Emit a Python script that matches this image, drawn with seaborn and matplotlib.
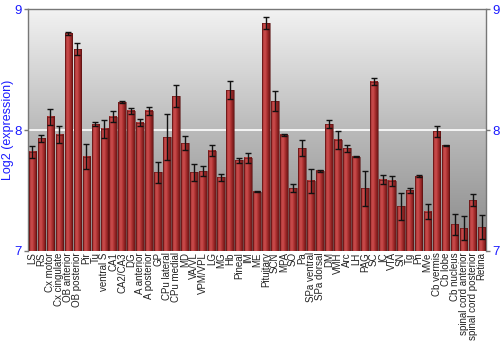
import numpy as np
import pandas as pd
import matplotlib
matplotlib.use("Agg")
import matplotlib.pyplot as plt
import seaborn as sns
from matplotlib.colors import LinearSegmentedColormap

regions = ["LS", "RS", "Cx motor", "Cx cingulate", "OB anterior", "OB posterior", "Pir", "Tu",
           "ventral S", "CA1", "CA2/CA3", "DG", "A anterior", "A posterior", "GP", "CPu lateral",
           "CPu medial", "MD", "VA/VL", "VPM/VPL", "LG", "MG", "Hb", "Pineal", "IM", "ME",
           "Pituitary", "SCN", "MPA", "SO", "Pa", "SPa ventral", "SPa dorsal", "DM", "VMH", "Arc",
           "LH", "PAG", "SC", "IC", "VTA", "SN", "Tg", "Pn", "MVe", "Cb vermis", "Cb lobe",
           "Cb nucleus", "spinal cord anterior", "spinal cord posterior", "Retina"]
expression = [7.82, 7.93, 8.11, 7.96, 8.80, 8.67, 7.78, 8.05,
              8.01, 8.11, 8.23, 8.16, 8.06, 8.16, 7.65, 7.94,
              8.28, 7.89, 7.65, 7.66, 7.83, 7.61, 8.33, 7.75, 7.77, 7.49,
              8.885, 8.24, 7.96, 7.52, 7.85, 7.58, 7.665, 8.05, 7.92, 7.85,
              7.78, 7.52, 8.40, 7.59, 7.58, 7.37, 7.50, 7.62, 7.325, 7.99, 7.875,
              7.22, 7.19, 7.42, 7.195]
error = [0.05, 0.03, 0.065, 0.07, 0.012, 0.05, 0.105, 0.02,
         0.075, 0.047, 0.008, 0.024, 0.03, 0.033, 0.084, 0.19,
         0.09, 0.057, 0.07, 0.044, 0.048, 0.03, 0.075, 0.022, 0.043, 0.005,
         0.05, 0.08, 0.01, 0.036, 0.064, 0.1, 0.008, 0.03, 0.076, 0.028,
         0.006, 0.145, 0.028, 0.037, 0.04, 0.11, 0.022, 0.005, 0.064, 0.047, 0.003,
         0.086, 0.1, 0.05, 0.1]
y_ticks = [7, 8, 9]
y_min, y_max = 7, 9

df = pd.DataFrame({"region": regions, "expression": expression, "error": error})

sns.set_theme(style="white")
plt.rcParams['font.family'] = ['Liberation Sans', 'DejaVu Sans']

fig = plt.figure(figsize=(5, 3.5), dpi=100)
ax = fig.add_axes([0.056, 0.283, 0.916, 0.691])

n = len(regions)

sns.barplot(data=df, x="region", y="expression", color="#b83838", width=0.85,
            errorbar=None, ax=ax, zorder=2, saturation=1)

# background gradient (light at top, darker at bottom)
bg = np.linspace(0, 1, 256).reshape(-1, 1)
bg_cmap = LinearSegmentedColormap.from_list("bg", ["#f2f2f2", "#bababa", "#888888"])
ax.imshow(bg, cmap=bg_cmap, aspect="auto", extent=(-0.5, n - 0.5, y_min, y_max),
          origin="upper", zorder=0, interpolation="bilinear")
ax.axhline(8, color="white", lw=1.2, zorder=1)

bar_cmap = LinearSegmentedColormap.from_list(
    "bar", ["#7a1c1c", "#c24444", "#c94c4c", "#b23434", "#8e2424", "#6e1616"])
grad = np.linspace(0, 1, 64).reshape(1, -1)
for p in list(ax.patches):
    x0 = p.get_x()
    w = p.get_width()
    top = p.get_y() + p.get_height()
    ax.imshow(grad, cmap=bar_cmap, aspect="auto",
              extent=(x0, x0 + w, y_min, top), zorder=3, interpolation="bilinear")
    p.set_facecolor("none")
    p.set_edgecolor("#5a1010")
    p.set_linewidth(0.4)
    p.set_zorder(4)

ax.errorbar(np.arange(n), df["expression"], yerr=df["error"], fmt="none",
            ecolor="#111111", elinewidth=1.0, capsize=2.2, capthick=1.0, zorder=5)

ax.set_ylim(y_min, y_max)
ax.set_xlim(-0.5, n - 0.5)
ax.set_yticks(y_ticks)
ax.set_yticklabels([str(t) for t in y_ticks])
ax.tick_params(axis="y", labelcolor="#1a1aff", color="#777777", labelsize=9.5,
               length=3, width=1, left=True, right=True,
               labelleft=True, labelright=True, pad=1.5)
ax.tick_params(axis="x", labelsize=7, length=0, pad=1, colors="#222222")
ax.set_xticks(np.arange(n))
ax.set_xticklabels(regions, rotation=90)
ax.set_xlabel("")
ax.set_ylabel("Log2 (expression)", color="#1a1aff", fontsize=9)
ax.yaxis.set_label_coords(-0.031, 0.5)

for s in ["top", "right", "left"]:
    ax.spines[s].set_visible(True)
    ax.spines[s].set_color("#777777")
    ax.spines[s].set_linewidth(1)
ax.spines["bottom"].set_visible(False)

fig.savefig("out.png", dpi=100)
